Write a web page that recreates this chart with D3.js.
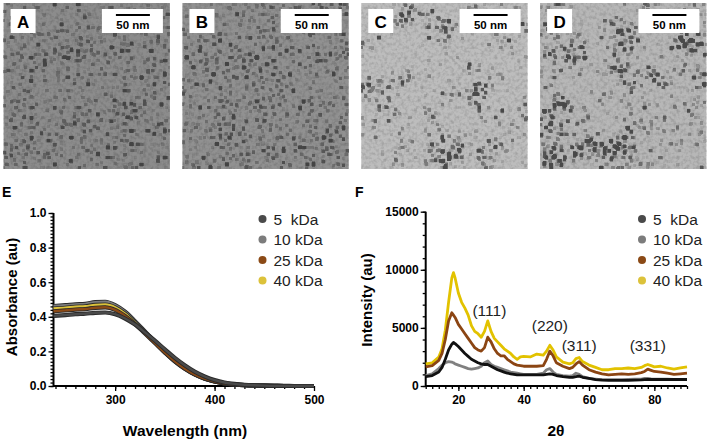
<!DOCTYPE html>
<html><head><meta charset="utf-8">
<script src="https://cdn.jsdelivr.net/npm/d3@7"></script>
<style>
html,body{margin:0;padding:0;background:#fff;}
svg{display:block;font-family:"Liberation Sans",Arial,sans-serif;}
text{white-space:pre;}
</style></head>
<body><svg id="fig" width="710" height="441"></svg>
<script>
// ---------------- DATA ----------------
const seriesNames = ["5  kDa", "10 kDa", "25 kDa", "40 kDa"];
const seriesColors = ["#4a4a4a", "#7c7c7c", "#8b4a16", "#dcc23a"];
const lineColorsF = ["#111111", "#808080", "#8b4513", "#e2c200"];

// Panel E: UV-vis absorbance
const wavelength = [238,250,260,270,280,290,300,310,320,330,340,350,360,370,380,390,400,410,420,430,440,450,460,470,480,490,500];
const abs5  = [0.405,0.41,0.415,0.418,0.423,0.425,0.415,0.39,0.355,0.31,0.262,0.212,0.163,0.12,0.083,0.055,0.034,0.02,0.012,0.007,0.004,0.002,0.001,0.001,0,0,0];
const abs10 = [0.462,0.467,0.472,0.475,0.485,0.487,0.468,0.43,0.375,0.315,0.255,0.197,0.145,0.102,0.068,0.043,0.026,0.015,0.009,0.005,0.003,0.002,0.001,0,0,0,0];
const abs25 = [0.432,0.437,0.442,0.445,0.452,0.455,0.44,0.405,0.358,0.303,0.248,0.193,0.142,0.1,0.067,0.042,0.026,0.015,0.009,0.005,0.003,0.002,0.001,0,0,0,0];
const abs40 = [0.448,0.452,0.458,0.461,0.469,0.471,0.455,0.418,0.366,0.308,0.251,0.195,0.143,0.101,0.067,0.043,0.026,0.015,0.009,0.005,0.003,0.002,0.001,0,0,0,0];
const eYTicks = [0, 0.2, 0.4, 0.6, 0.8, 1.0];
const eXTicks = [300, 400, 500];

// Panel F: XRD
const twoTheta = [10,12,14,15,16,17,18,18.5,19,20,21,22,23,24,25,26,27,28,29,30,31,32,33,34,35,36,37,38,39,40,42,44,46,47,48,49,50,52,54,55,56,57,58,60,62,64,66,68,70,72,74,76,77,78,79,80,82,84,86,88,90];
const xrd40 = [1900,2000,2500,3200,4800,7200,9300,9750,9300,8000,7200,6700,6100,5200,4700,4500,4200,4700,5600,4700,4100,3800,3500,3200,3000,2800,2500,2300,2500,2550,2500,2750,2650,3000,3500,3100,2500,2050,1900,2000,2350,2450,2100,1800,1600,1400,1400,1500,1500,1550,1500,1600,1750,1850,1750,1650,1700,1550,1450,1550,1650];
const xrd25 = [1650,1750,2200,2800,4000,5600,6300,6100,5900,5300,4900,4500,4100,3700,3300,3100,3000,3300,4200,3800,3200,2800,2600,2600,2300,2100,1900,1800,1750,1700,1700,1700,1750,2300,3000,2600,2000,1700,1500,1600,1900,2100,1800,1400,1200,1050,950,1000,1050,1000,1050,1150,1250,1450,1350,1250,1200,1100,1000,1050,1100];
const xrd5  = [800,900,1200,1600,2300,3100,3600,3750,3650,3400,3100,2800,2550,2300,2150,2000,1900,1850,1850,1700,1550,1400,1300,1200,1100,1050,1000,950,950,950,950,950,950,1000,1050,1000,900,800,750,750,800,850,750,650,550,500,480,480,480,490,500,520,540,560,560,560,560,560,560,560,560];
const xrd10 = [900,1050,1500,1800,2000,2100,2050,2000,1900,1800,1700,1600,1500,1450,1500,1550,1700,2000,2150,1850,1700,1600,1500,1400,1300,1200,1150,1100,1050,1000,1000,1000,1100,1400,1500,1200,1000,900,850,900,1100,1000,800,650,600,550,550,550,550,560,580,600,650,650,620,600,600,580,570,560,560];
const fYTicks = [0, 5000, 10000, 15000];
const fXTicks = [20, 40, 60, 80];
const peakLabels = ["(111)", "(220)", "(311)", "(331)"];
const peakPos = [[29.5, 6000], [48, 4700], [57, 3000], [78, 3000]];

// TEM panels
const temLetters = ["A", "B", "C", "D"];
const temTone = ["#8c8c8c", "#919191", "#bdbdbd", "#b7b7b7"];
const temThreshold = [0.335, 0.34, 0.31, 0.325];
const temCluster = [0.1, 0.1, 0.4, 0.5];

// ---------------- DRAW ----------------
const svg = d3.select("#fig");
svg.append("rect").attr("width", 710).attr("height", 441).attr("fill", "#fff");
const defs = svg.append("defs");

const opaque = "1 0 0 0 0  0 1 0 0 0  0 0 1 0 0  0 0 0 0 1";
temLetters.forEach((L, i) => {
  const f = defs.append("filter").attr("id", "spots" + i)
    .attr("x", 0).attr("y", 0).attr("width", "100%").attr("height", "100%")
    .attr("color-interpolation-filters", "sRGB");
  f.append("feTurbulence").attr("type", "fractalNoise").attr("baseFrequency", 0.3)
    .attr("numOctaves", 1).attr("seed", 11 + i * 7).attr("result", "n1");
  f.append("feColorMatrix").attr("in", "n1").attr("type", "matrix").attr("values", opaque).attr("result", "o1");
  f.append("feTurbulence").attr("type", "fractalNoise").attr("baseFrequency", 0.03)
    .attr("numOctaves", 2).attr("seed", 5 + i * 3).attr("result", "n2");
  f.append("feColorMatrix").attr("in", "n2").attr("type", "matrix").attr("values", opaque).attr("result", "o2");
  const w = temCluster[i];
  f.append("feComposite").attr("in", "o1").attr("in2", "o2").attr("operator", "arithmetic")
    .attr("k1", 0).attr("k2", 1).attr("k3", w).attr("k4", -w * 0.5).attr("result", "c");
  const t = temThreshold[i], k = 9;
  f.append("feColorMatrix").attr("in", "c").attr("type", "matrix")
    .attr("values", `0 0 0 0 0.22  0 0 0 0 0.22  0 0 0 0 0.22  ${-k} 0 0 0 ${k * t}`).attr("result", "s");
  f.append("feMorphology").attr("in", "s").attr("operator", "dilate").attr("radius", 0.9).attr("result", "d");
  f.append("feGaussianBlur").attr("in", "d").attr("stdDeviation", 0.65);
  const g = defs.append("filter").attr("id", "grain" + i)
    .attr("x", 0).attr("y", 0).attr("width", "100%").attr("height", "100%")
    .attr("color-interpolation-filters", "sRGB");
  g.append("feTurbulence").attr("type", "fractalNoise").attr("baseFrequency", 0.3)
    .attr("numOctaves", 2).attr("seed", 3 + i).attr("result", "n");
  g.append("feColorMatrix").attr("in", "n").attr("type", "matrix")
    .attr("values", "0 0 0 0 0  0 0 0 0 0  0 0 0 0 0  -1.6 0 0 0 0.95");
});

const temX = d3.scaleBand().domain(temLetters).range([0, 710]).paddingInner(0.07).paddingOuter(0.02);
temLetters.forEach((L, i) => {
  const x0 = temX(L), w = temX.bandwidth(), y0 = 3, h = 166;
  const g = svg.append("g").attr("transform", `translate(${x0},${y0})`);
  g.append("rect").attr("width", w).attr("height", h).attr("fill", temTone[i]);
  g.append("rect").attr("width", w).attr("height", h).attr("fill", "#000").attr("filter", `url(#grain${i})`).attr("opacity", 0.2);
  g.append("rect").attr("width", w).attr("height", h).attr("fill", "#000").attr("filter", `url(#spots${i})`).attr("opacity", 0.85);
  // letter box
  g.append("rect").attr("x", 7).attr("y", 6).attr("width", 25).attr("height", 24).attr("fill", "#fff");
  g.append("text").attr("x", 19.5).attr("y", 24.5).attr("text-anchor", "middle")
    .attr("font-size", 17).attr("font-weight", "bold").text(L);
  // scale bar box
  const bx = w - 68;
  g.append("rect").attr("x", bx).attr("y", 6).attr("width", 61).attr("height", 24).attr("fill", "#fff");
  g.append("line").attr("x1", bx + 14).attr("x2", bx + 48).attr("y1", 12).attr("y2", 12)
    .attr("stroke", "#000").attr("stroke-width", 2);
  g.append("text").attr("x", bx + 31).attr("y", 26).attr("text-anchor", "middle")
    .attr("font-size", 11.5).attr("font-weight", "bold").text("50 nm");
});

// generic axis drawing
function drawAxes(g, x, y, xMajor, xMinor, yMajor, yMinor, xFmt, yFmt) {
  const [x0, x1] = x.range(), [yb, yt] = y.range();
  const ax = g.append("g").attr("transform", `translate(0,${yb})`);
  ax.call(d3.axisBottom(x).tickValues(xMinor).tickSize(3).tickFormat(""));
  ax.call(g2 => g2.append("g").call(d3.axisBottom(x).tickValues(xMajor).tickSize(5).tickPadding(4).tickFormat(xFmt)));
  const ay = g.append("g").attr("transform", `translate(${x0},0)`);
  ay.call(d3.axisLeft(y).tickValues(yMinor).tickSize(3).tickFormat(""));
  ay.call(g2 => g2.append("g").call(d3.axisLeft(y).tickValues(yMajor).tickSize(5).tickPadding(2).tickFormat(yFmt)));
  g.selectAll(".domain").remove();
  g.selectAll(".tick line").attr("stroke", "#000").attr("stroke-width", 1.3);
  g.selectAll(".tick text").attr("font-family", "Liberation Sans, Arial, sans-serif")
    .attr("font-size", 12).attr("font-weight", "bold").attr("fill", "#000");
  g.append("line").attr("x1", x0).attr("x2", x1).attr("y1", yb).attr("y2", yb).attr("stroke", "#000").attr("stroke-width", 2);
  g.append("line").attr("x1", x0).attr("x2", x0).attr("y1", yb + 1).attr("y2", yt).attr("stroke", "#000").attr("stroke-width", 2);
}

function legend(g, lx, ly) {
  seriesNames.forEach((n, i) => {
    g.append("circle").attr("cx", lx).attr("cy", ly + i * 20.5).attr("r", 4).attr("fill", seriesColors[i]);
    g.append("text").attr("x", lx + 11).attr("y", ly + i * 20.5 + 5.5).attr("font-size", 15.5)
      .attr("fill", "#222").style("white-space", "pre").text(n);
  });
}

// ----- Panel E -----
const gE = svg.append("g");
const xE = d3.scaleLinear().domain([238, 500]).range([53.5, 314]);
const yE = d3.scaleLinear().domain([0, 1]).range([386, 213]);
drawAxes(gE, xE, yE, eXTicks, d3.range(240, 500, 10), eYTicks, d3.range(0, 1.0001, 0.02),
  d => d, d3.format(".1f"));
const absSeries = [abs10, abs40, abs25, abs5];
const absIdx = [1, 3, 2, 0];
const lineE = d3.line().curve(d3.curveMonotoneX);
absSeries.forEach((s, k) => {
  const pts = wavelength.map((w, j) => [xE(w), yE(s[j])]);
  gE.append("path").attr("d", lineE(pts)).attr("fill", "none").attr("stroke", "#2a2a2a").attr("stroke-width", 4.2);
  gE.append("path").attr("d", lineE(pts)).attr("fill", "none").attr("stroke", seriesColors[absIdx[k]]).attr("stroke-width", 2.4);
});
legend(gE, 262.5, 219);
svg.append("text").attr("x", 2).attr("y", 197).attr("font-size", 14).attr("font-weight", "bold").text("E");
svg.append("text").attr("transform", "translate(17,297) rotate(-90)").attr("text-anchor", "middle")
  .attr("font-size", 15).attr("font-weight", "bold").text("Absorbance (au)");
svg.append("text").attr("x", 185).attr("y", 436).attr("text-anchor", "middle")
  .attr("font-size", 15.5).attr("font-weight", "bold").text("Wavelength (nm)");

// ----- Panel F -----
const gF = svg.append("g");
const xF = d3.scaleLinear().domain([10, 90]).range([425.7, 687]);
const yF = d3.scaleLinear().domain([0, 15000]).range([386, 211.7]);
drawAxes(gF, xF, yF, fXTicks, d3.range(10, 91, 2), fYTicks, d3.range(0, 15001, 1000), d => d, d => d);
const xrdSeries = [xrd10, xrd40, xrd25, xrd5];
const xrdIdx = [1, 3, 2, 0];
const lineF = d3.line().curve(d3.curveLinear);
xrdSeries.forEach((s, k) => {
  const pts = twoTheta.map((t, j) => [xF(t), yF(s[j])]);
  gF.append("path").attr("d", lineF(pts)).attr("fill", "none")
    .attr("stroke", lineColorsF[xrdIdx[k]]).attr("stroke-width", 2.8).attr("stroke-linejoin", "round");
});
peakLabels.forEach((p, i) => {
  gF.append("text").attr("x", xF(peakPos[i][0])).attr("y", yF(peakPos[i][1]))
    .attr("text-anchor", "middle").attr("font-size", 15.5).attr("fill", "#222").text(p);
});
legend(gF, 642, 219);
svg.append("text").attr("x", 355).attr("y", 197).attr("font-size", 14).attr("font-weight", "bold").text("F");
svg.append("text").attr("transform", "translate(372,300) rotate(-90)").attr("text-anchor", "middle")
  .attr("font-size", 15).attr("font-weight", "bold").text("Intensity (au)");
svg.append("text").attr("x", 556).attr("y", 436).attr("text-anchor", "middle")
  .attr("font-size", 15.5).attr("font-weight", "bold").text("2θ");
</script></body></html>
